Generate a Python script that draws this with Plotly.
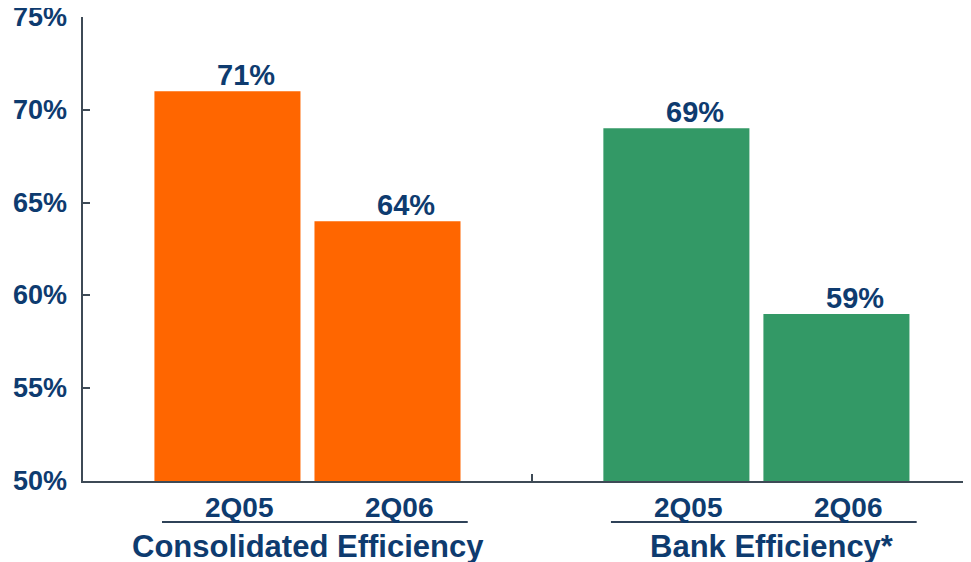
import plotly.graph_objects as go

groups = ["Consolidated Efficiency", "Bank Efficiency*"]
periods = ["2Q05", "2Q06"]
values_2q05 = [71, 69]
values_2q06 = [64, 59]
group_colors = ["#FF6600", "#339966"]
y_ticks = [50, 55, 60, 65, 70, 75]
y_ticktext = ["50%", "55%", "60%", "65%", "70%", "75%"]

NAVY = "#0E3B6F"
AXIS = "#3E4A56"
FONT = "Liberation Sans, Arial, sans-serif"

# page body has an 8px margin; figure sized to fill the rest of the window
W, H = 963, 554
L, R, T, B = 75, 0, 9, 81
ph = H - T - B
OFF = 8

bargap = 0.287
bargroupgap = 0.0875
slot = (1 - bargap) / 2  # width of each bar slot in category units

fig = go.Figure()
series = [("2Q05", values_2q05), ("2Q06", values_2q06)]
for name, vals in series:
    fig.add_trace(go.Bar(
        x=groups, y=vals, name=name,
        marker=dict(color=group_colors, line=dict(width=0)),
        showlegend=False, hoverinfo="skip",
    ))

def paper_y(screen_y):
    return (H - B - (screen_y - OFF)) / ph

annotations = []
shapes = []
for gi, g in enumerate(groups):
    for si, (name, vals) in enumerate(series):
        off = (si - 0.5) * slot
        annotations.append(dict(
            x=gi + off, y=vals[gi], xref="x", yref="y",
            text=f"{vals[gi]}%", showarrow=False, xshift=19, yshift=-2,
            yanchor="bottom", xanchor="center",
            font=dict(family=FONT, size=29, color=NAVY, weight="bold"),
        ))
        annotations.append(dict(
            x=gi + off, y=paper_y(507), xref="x", yref="paper",
            text=name, showarrow=False, xshift=12,
            xanchor="center", yanchor="middle",
            font=dict(family=FONT, size=28, color=NAVY, weight="bold"),
        ))
    annotations.append(dict(
        x=gi, y=paper_y(546), xref="x", yref="paper",
        text=g, showarrow=False, xshift=(1 if gi == 0 else 16),
        xanchor="center", yanchor="middle",
        font=dict(family=FONT, size=31, color=NAVY, weight="bold"),
    ))
    shapes.append(dict(
        type="line", xref="x", yref="paper",
        x0=gi - 0.324, x1=gi + 0.357, y0=paper_y(522), y1=paper_y(522),
        line=dict(color="#2F4258", width=2),
    ))

# y tick labels drawn as annotations so the top label is not dropped at the edge
for v, t in zip(y_ticks, y_ticktext):
    annotations.append(dict(
        x=0, y=v, xref="paper", yref="y", text=t, showarrow=False,
        xanchor="right", yanchor="middle", xshift=-14,
        font=dict(family=FONT, size=27, color=NAVY, weight="bold"),
    ))

fig.update_layout(
    template="none",
    width=W, height=H,
    margin=dict(l=L, r=R, t=T, b=B),
    paper_bgcolor="white", plot_bgcolor="white",
    barmode="group", bargap=bargap, bargroupgap=bargroupgap,
    annotations=annotations, shapes=shapes,
    xaxis=dict(
        type="category", range=[-0.5, 1.478],
        showticklabels=False, tickson="boundaries",
        ticks="inside", ticklen=7, tickcolor=AXIS, tickwidth=1.5,
        showline=True, linecolor=AXIS, linewidth=1.5,
        showgrid=False, zeroline=False, fixedrange=True, automargin=False,
    ),
    yaxis=dict(
        range=[50, 75], tickvals=y_ticks, showticklabels=False,
        ticks="inside", ticklen=7, tickcolor=AXIS, tickwidth=1.5,
        showline=True, linecolor=AXIS, linewidth=1.5,
        showgrid=False, zeroline=False, automargin=False,
    ),
)

fig.write_html("out.html")
